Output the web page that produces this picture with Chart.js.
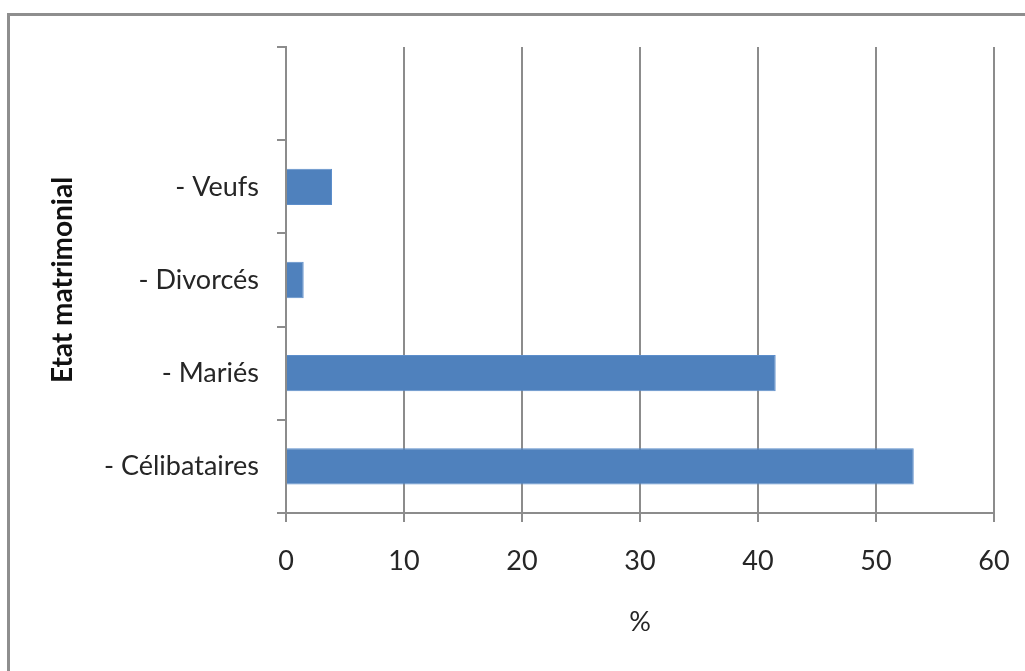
<!DOCTYPE html>
<html>
<head>
<meta charset="utf-8">
<script src="https://cdn.jsdelivr.net/npm/chart.js@4.4.1/dist/chart.umd.min.js"></script>
<style>
  html, body { margin: 0; padding: 0; background: #fff; overflow: hidden; }
  #cadre {
    position: absolute; left: 7px; top: 13px;
    width: 1100px; height: 800px;
    border: 3px solid #8e8e8e;
  }
  #wrap { position: absolute; left: 0; top: 0; width: 1025px; height: 671px; }
</style>
</head>
<body>
<div id="cadre"></div>
<div id="wrap"><canvas id="mycanvas" width="1025" height="671"></canvas></div>
<script>
// données (de bas en haut)
const categories = ['- Célibataires', '- Mariés', '- Divorcés', '- Veufs', ''];
const pourcentages = [53.2, 41.5, 1.5, 3.9, null];
const xTicks = [0, 10, 20, 30, 40, 50, 60];

const police = 'Lato, "Open Sans", sans-serif';
const gris = '#8c8c8c';
const texte = '#262626';

const ctx = document.querySelector('#mycanvas').getContext('2d');
const myChart = new Chart(ctx, {
  type: 'bar',
  data: {
    labels: categories,
    datasets: [{
      data: pourcentages,
      backgroundColor: '#4f81bd',
      borderColor: '#5d8ecb',
      borderWidth: 1,
      barPercentage: 0.39,
      categoryPercentage: 1
    }]
  },
  options: {
    responsive: false,
    animation: false,
    indexAxis: 'y',
    layout: { padding: { left: 40, top: 47, right: 31, bottom: 20 } },
    plugins: { legend: { display: false }, tooltip: { enabled: false } },
    scales: {
      x: {
        min: 0,
        max: 60,
        afterBuildTicks: (s) => { s.ticks = xTicks.map(v => ({ value: v })); },
        afterFit: (s) => {
          s.height = 671 - 20 - 513;
          s.paddingLeft = 0;
          s.paddingRight = 0;
        },
        grid: { color: gris, lineWidth: 2, tickLength: 9 },
        border: { color: gris, width: 2 },
        ticks: { color: texte, padding: 23, maxRotation: 0, font: { family: police, size: 27 } },
        title: {
          display: true, text: '%', color: texte,
          padding: { top: 0, bottom: 13 },
          font: { family: police, size: 27 }
        }
      },
      y: {
        reverse: true,
        afterFit: (s) => { s.width = 286 - 40; },
        grid: { drawOnChartArea: false, color: gris, lineWidth: 2, tickLength: 9 },
        border: { color: gris, width: 2 },
        ticks: { color: texte, padding: 18, font: { family: police, size: 27 } },
        title: {
          display: true, text: 'Etat matrimonial', color: '#111',
          padding: { top: 6, bottom: 0 },
          font: { family: police, size: 28, weight: 'bold' }
        }
      }
    }
  }
});
</script>
</body>
</html>
